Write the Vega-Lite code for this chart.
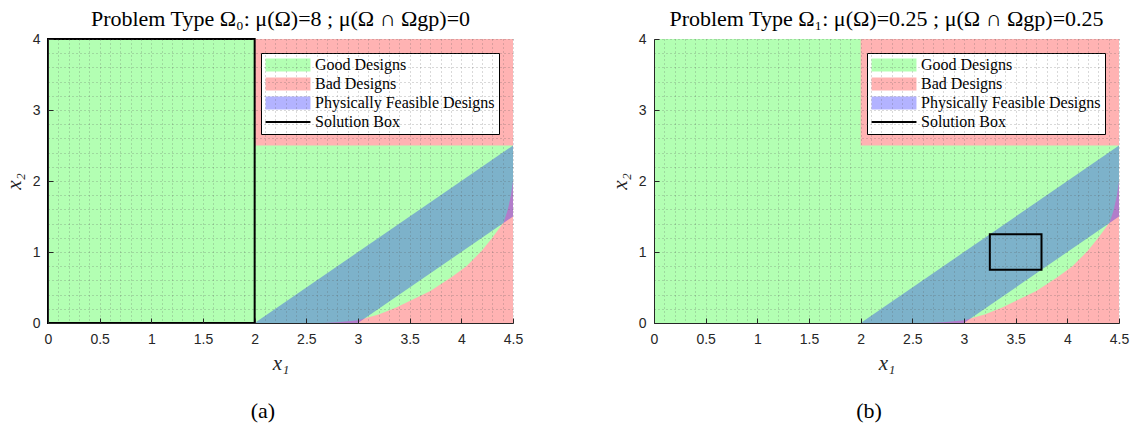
{
  "$schema": "https://vega.github.io/schema/vega-lite/v6.json",
  "padding": {"left": 3, "top": 8, "right": 5, "bottom": 5},
  "background": "white",
  "config": {
    "view": {"stroke": null},
    "title": {"font": "Liberation Serif", "fontSize": 22, "fontWeight": "normal", "color": "black"}
  },
  "datasets": {
    "regions": [
      {"type": "Good Designs", "x": 0, "x2": 4.5, "y": 0, "y2": 4},
      {"type": "Bad Designs", "x": 2, "x2": 4.5, "y": 2.5, "y2": 4}
    ],
    "curve": [
      {"x": 2.66, "y": 0, "y2": 0},
      {"x": 2.8, "y": 0.01, "y2": 0},
      {"x": 3.0, "y": 0.04, "y2": 0},
      {"x": 3.2, "y": 0.12, "y2": 0},
      {"x": 3.37, "y": 0.22, "y2": 0},
      {"x": 3.5, "y": 0.31, "y2": 0},
      {"x": 3.7, "y": 0.45, "y2": 0},
      {"x": 3.9, "y": 0.64, "y2": 0},
      {"x": 4.05, "y": 0.8, "y2": 0},
      {"x": 4.2, "y": 1.02, "y2": 0},
      {"x": 4.3, "y": 1.2, "y2": 0},
      {"x": 4.41, "y": 1.42, "y2": 0},
      {"x": 4.45, "y": 1.6, "y2": 0},
      {"x": 4.48, "y": 1.8, "y2": 0},
      {"x": 4.5, "y": 2.0, "y2": 0}
    ],
    "band": [
      {"x": 2, "y": 0, "y2": 0},
      {"x": 3, "y": 1, "y2": 0},
      {"x": 4.5, "y": 2.5, "y2": 1.5}
    ],
    "boxes": [
      {"panel": "a", "x": 0, "x2": 2, "y": 0, "y2": 4},
      {"panel": "b", "x": 3.25, "x2": 3.75, "y": 0.75, "y2": 1.25}
    ]
  },
  "resolve": {"scale": {"color": "independent"}, "legend": {"color": "independent"}},
  "spacing": 86,
  "hconcat": [
    {
      "title": {"text": "(a)", "orient": "bottom", "anchor": "middle", "fontSize": 22, "offset": 28},
      "resolve": {"scale": {"color": "independent"}, "legend": {"color": "independent"}},
      "vconcat": [
        {
          "width": 465,
          "height": 284,
          "title": {"text": "Problem Type Ω₀: μ(Ω)=8 ; μ(Ω ∩ Ωgp)=0", "offset": 1},
          "encoding": {
            "x": {"field": "x", "type": "quantitative", "scale": {"domain": [0, 4.5], "nice": false, "zero": false},
              "axis": {"title": "x₁", "values": [0,0.1,0.2,0.3,0.4,0.5,0.6,0.7,0.8,0.9,1,1.1,1.2,1.3,1.4,1.5,1.6,1.7,1.8,1.9,2,2.1,2.2,2.3,2.4,2.5,2.6,2.7,2.8,2.9,3,3.1,3.2,3.3,3.4,3.5,3.6,3.7,3.8,3.9,4,4.1,4.2,4.3,4.4,4.5],
                "labelExpr": "abs(datum.value*2 - round(datum.value*2)) < 0.001 ? '' + datum.value : ''",
                "tickOpacity": {"condition": {"test": "abs(datum.value*2 - round(datum.value*2)) < 0.001", "value": 1}, "value": 0},
                "labelOverlap": false, "labelFlush": false, "labelBound": false, "zindex": 1,
                "grid": true, "gridColor": "#555555", "gridOpacity": 0.45, "gridDash": [1, 3], "gridWidth": 1,
                "domainColor": "#262626", "tickColor": "#262626", "tickSize": -5, "labelPadding": 14, "titlePadding": 6,
                "labelFont": "Liberation Sans", "labelFontSize": 14, "labelColor": "#262626",
                "titleFont": "Liberation Serif", "titleFontSize": 21, "titleFontStyle": "italic", "titleFontWeight": "normal", "titleColor": "#262626"}},
            "y": {"field": "y", "type": "quantitative", "scale": {"domain": [0, 4], "nice": false, "zero": false},
              "axis": {"title": "x₂", "values": [0,0.2,0.4,0.6,0.8,1,1.2,1.4,1.6,1.8,2,2.2,2.4,2.6,2.8,3,3.2,3.4,3.6,3.8,4],
                "labelExpr": "abs(datum.value - round(datum.value)) < 0.001 ? '' + datum.value : ''",
                "tickOpacity": {"condition": {"test": "abs(datum.value - round(datum.value)) < 0.001", "value": 1}, "value": 0},
                "labelOverlap": false, "labelFlush": false, "labelBound": false, "zindex": 1,
                "grid": true, "gridColor": "#555555", "gridOpacity": 0.45, "gridDash": [1, 3], "gridWidth": 1,
                "domainColor": "#262626", "tickColor": "#262626", "tickSize": -5, "labelPadding": 13, "titlePadding": 8,
                "labelFont": "Liberation Sans", "labelFontSize": 14, "labelColor": "#262626",
                "titleFont": "Liberation Serif", "titleFontSize": 21, "titleFontStyle": "italic", "titleFontWeight": "normal", "titleColor": "#262626"}}
          },
          "layer": [
            {
              "data": {"name": "regions"},
              "mark": {"type": "rect"},
              "encoding": {
                "x2": {"field": "x2"},
                "y2": {"field": "y2"},
                "color": {"field": "type", "type": "nominal",
                  "scale": {"domain": ["Good Designs", "Bad Designs", "Physically Feasible Designs", "Solution Box"], "range": ["#b3ffb3", "#ffb3b3", "#b3b3ff", "#000000"]},
                  "legend": {"title": null, "orient": "top-right", "offset": 14, "fillColor": "white", "strokeColor": "black", "padding": 4,
                    "labelFont": "Liberation Serif", "labelFontSize": 16, "labelColor": "black", "labelLimit": 0, "labelOffset": 19, "rowPadding": -3,
                    "symbolType": "M-3.21,-0.93H3.21V0.93H-3.21Z", "symbolSize": 196, "symbolOffset": 15, "symbolStrokeWidth": 0, "symbolOpacity": 1,
                    "encode": {"symbols": {"update": {
                      "shape": {"signal": "datum.value === 'Solution Box' ? 'M-3.21,0H3.21' : 'M-3.21,-0.93H3.21V0.93H-3.21Z'"},
                      "stroke": {"signal": "datum.value === 'Solution Box' ? 'black' : 'transparent'"},
                      "strokeWidth": {"value": 2}}}}}}
              }
            },
            {
              "data": {"name": "curve"},
              "mark": {"type": "area", "color": "#ffb3b3", "opacity": 1},
              "encoding": {"y2": {"field": "y2"}}
            },
            {
              "data": {"name": "band"},
              "mark": {"type": "area", "color": "#0000ff", "opacity": 0.3},
              "encoding": {"y2": {"field": "y2"}}
            },
            {
              "data": {"name": "boxes"},
              "transform": [{"filter": "datum.panel === 'a'"}],
              "mark": {"type": "rect", "filled": false, "stroke": "black", "strokeWidth": 2},
              "encoding": {"x2": {"field": "x2"}, "y2": {"field": "y2"}}
            }
          ]
        }
      ]
    },
    {
      "title": {"text": "(b)", "orient": "bottom", "anchor": "middle", "fontSize": 22, "offset": 28},
      "resolve": {"scale": {"color": "independent"}, "legend": {"color": "independent"}},
      "vconcat": [
        {
          "width": 465,
          "height": 284,
          "title": {"text": "Problem Type Ω₁: μ(Ω)=0.25 ; μ(Ω ∩ Ωgp)=0.25", "offset": 1},
          "encoding": {
            "x": {"field": "x", "type": "quantitative", "scale": {"domain": [0, 4.5], "nice": false, "zero": false},
              "axis": {"title": "x₁", "values": [0,0.1,0.2,0.3,0.4,0.5,0.6,0.7,0.8,0.9,1,1.1,1.2,1.3,1.4,1.5,1.6,1.7,1.8,1.9,2,2.1,2.2,2.3,2.4,2.5,2.6,2.7,2.8,2.9,3,3.1,3.2,3.3,3.4,3.5,3.6,3.7,3.8,3.9,4,4.1,4.2,4.3,4.4,4.5],
                "labelExpr": "abs(datum.value*2 - round(datum.value*2)) < 0.001 ? '' + datum.value : ''",
                "tickOpacity": {"condition": {"test": "abs(datum.value*2 - round(datum.value*2)) < 0.001", "value": 1}, "value": 0},
                "labelOverlap": false, "labelFlush": false, "labelBound": false, "zindex": 1,
                "grid": true, "gridColor": "#555555", "gridOpacity": 0.45, "gridDash": [1, 3], "gridWidth": 1,
                "domainColor": "#262626", "tickColor": "#262626", "tickSize": -5, "labelPadding": 14, "titlePadding": 6,
                "labelFont": "Liberation Sans", "labelFontSize": 14, "labelColor": "#262626",
                "titleFont": "Liberation Serif", "titleFontSize": 21, "titleFontStyle": "italic", "titleFontWeight": "normal", "titleColor": "#262626"}},
            "y": {"field": "y", "type": "quantitative", "scale": {"domain": [0, 4], "nice": false, "zero": false},
              "axis": {"title": "x₂", "values": [0,0.2,0.4,0.6,0.8,1,1.2,1.4,1.6,1.8,2,2.2,2.4,2.6,2.8,3,3.2,3.4,3.6,3.8,4],
                "labelExpr": "abs(datum.value - round(datum.value)) < 0.001 ? '' + datum.value : ''",
                "tickOpacity": {"condition": {"test": "abs(datum.value - round(datum.value)) < 0.001", "value": 1}, "value": 0},
                "labelOverlap": false, "labelFlush": false, "labelBound": false, "zindex": 1,
                "grid": true, "gridColor": "#555555", "gridOpacity": 0.45, "gridDash": [1, 3], "gridWidth": 1,
                "domainColor": "#262626", "tickColor": "#262626", "tickSize": -5, "labelPadding": 13, "titlePadding": 8,
                "labelFont": "Liberation Sans", "labelFontSize": 14, "labelColor": "#262626",
                "titleFont": "Liberation Serif", "titleFontSize": 21, "titleFontStyle": "italic", "titleFontWeight": "normal", "titleColor": "#262626"}}
          },
          "layer": [
            {
              "data": {"name": "regions"},
              "mark": {"type": "rect"},
              "encoding": {
                "x2": {"field": "x2"},
                "y2": {"field": "y2"},
                "color": {"field": "type", "type": "nominal",
                  "scale": {"domain": ["Good Designs", "Bad Designs", "Physically Feasible Designs", "Solution Box"], "range": ["#b3ffb3", "#ffb3b3", "#b3b3ff", "#000000"]},
                  "legend": {"title": null, "orient": "top-right", "offset": 14, "fillColor": "white", "strokeColor": "black", "padding": 4,
                    "labelFont": "Liberation Serif", "labelFontSize": 16, "labelColor": "black", "labelLimit": 0, "labelOffset": 19, "rowPadding": -3,
                    "symbolType": "M-3.21,-0.93H3.21V0.93H-3.21Z", "symbolSize": 196, "symbolOffset": 15, "symbolStrokeWidth": 0, "symbolOpacity": 1,
                    "encode": {"symbols": {"update": {
                      "shape": {"signal": "datum.value === 'Solution Box' ? 'M-3.21,0H3.21' : 'M-3.21,-0.93H3.21V0.93H-3.21Z'"},
                      "stroke": {"signal": "datum.value === 'Solution Box' ? 'black' : 'transparent'"},
                      "strokeWidth": {"value": 2}}}}}}
              }
            },
            {
              "data": {"name": "curve"},
              "mark": {"type": "area", "color": "#ffb3b3", "opacity": 1},
              "encoding": {"y2": {"field": "y2"}}
            },
            {
              "data": {"name": "band"},
              "mark": {"type": "area", "color": "#0000ff", "opacity": 0.3},
              "encoding": {"y2": {"field": "y2"}}
            },
            {
              "data": {"name": "boxes"},
              "transform": [{"filter": "datum.panel === 'b'"}],
              "mark": {"type": "rect", "filled": false, "stroke": "black", "strokeWidth": 2},
              "encoding": {"x2": {"field": "x2"}, "y2": {"field": "y2"}}
            }
          ]
        }
      ]
    }
  ]
}
